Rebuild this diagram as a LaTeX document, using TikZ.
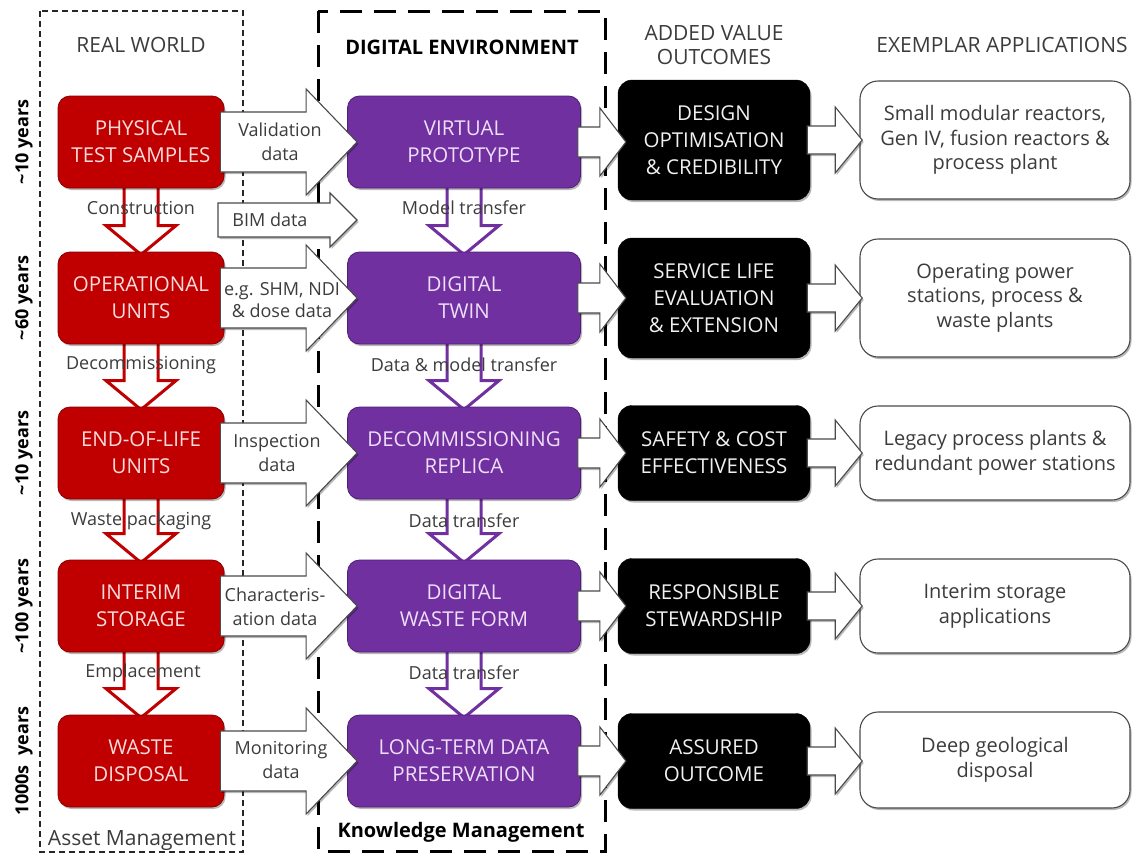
\documentclass[tikz,border=0pt]{standalone}
\usepackage{fontspec}
\setmainfont{Open Sans}
\usetikzlibrary{calc,shadows}
\definecolor{cRed}{HTML}{C00000}
\definecolor{cRedEdge}{HTML}{8A0000}
\definecolor{cPur}{HTML}{7030A0}
\definecolor{cPurEdge}{HTML}{4F1F75}
\definecolor{cRedTxt}{HTML}{F9DCDC}
\definecolor{cPurTxt}{HTML}{EEDFF9}
\definecolor{cGray}{HTML}{3C3C3C}
\definecolor{cLine}{HTML}{4A4A4A}
\newcommand\myfs[2]{\fontsize{#1}{#2}\selectfont}
\newcommand\fatarrow[5]{\draw[fatarr] ($(#1)+(0,-#3)$) -- ($(#2)+(-#5,-#3)$) -- ($(#2)+(-#5,-#4)$) -- (#2) -- ($(#2)+(-#5,#4)$) -- ($(#2)+(-#5,#3)$) -- ($(#1)+(0,#3)$) -- cycle;}
\newcommand\downarr[3]{\draw[downarr,draw=#3] ($(#1.south)+(-17,-6)$) -- ($(#2.north)+(-17,-26)$) -- ($(#2.north)+(-35,-26)$) -- ($(#2.north)+(0,3)$) -- ($(#2.north)+(35,-26)$) -- ($(#2.north)+(17,-26)$) -- ($(#1.south)+(17,-6)$) -- cycle;}
\pgfdeclarelayer{bg}
\pgfsetlayers{bg,main}
\begin{document}
\begin{tikzpicture}[x=1pt,y=-1pt,
 shad/.style={drop shadow={shadow xshift=1.5pt,shadow yshift=-2pt,opacity=0.28,fill=black}},
 rbox/.style={shad,rounded corners=12pt,fill=cRed,draw=cRedEdge,line width=0.8pt,text=cRedTxt,minimum width=166pt,minimum height=92pt,inner sep=0pt,align=center,font=\myfs{20.5}{27}},
 pbox/.style={rbox,fill=cPur,draw=cPurEdge,text=cPurTxt,minimum width=233pt},
 bbox/.style={shad,rounded corners=14pt,fill=black,draw=black,text=white!94!black,minimum width=192pt,inner sep=0pt,align=center,font=\myfs{20.5}{27}},
 wbox/.style={shad,rounded corners=18pt,fill=white,draw=cLine,line width=1.1pt,text=cGray,minimum width=270pt,inner sep=0pt,align=center,font=\myfs{20}{24.5}},
 fatarr/.style={shad,fill=white,draw=cLine,line width=1.1pt,line join=miter},
 downarr/.style={fill=white,line width=3pt,line join=miter},
 alab/.style={text=cGray,align=center,font=\myfs{18}{24},inner sep=0pt},
 hdr/.style={text=cGray,align=center,font=\myfs{21}{24},inner sep=0pt},
 boldlbl/.style={text=black,font=\bfseries\myfs{20}{24},inner sep=0pt},
 yrs/.style={text=black,font=\bfseries\myfs{18}{20},rotate=90,inner sep=0pt}
]
\useasboundingbox (0,0) rectangle (1134,854);

% background and frames
\begin{pgfonlayer}{bg}
\fill[white] (0,0) rectangle (1134,854);
\draw[line width=1.2pt,dash pattern=on 6pt off 4pt,draw=black!85] (40,11) rectangle (243,852);
\draw[line width=3pt,dash pattern=on 22pt off 12pt] (318,11) rectangle (605,851);
\end{pgfonlayer}

% titles
\node[hdr] (tRW) at (141,45) {REAL WORLD};
\node[boldlbl] (tDE) at (462,47) {DIGITAL ENVIRONMENT};
\node[hdr] (tAV) at (714,45) {ADDED VALUE\\OUTCOMES};
\node[hdr] (tEA) at (1002,45) {EXEMPLAR APPLICATIONS};
\node[hdr] (tAM) at (142,840) {Asset Management};
\node[boldlbl] (tKM) at (461,832) {Knowledge Management};

% year labels
\node[yrs] (y1) at (24,142) {\textasciitilde10 years};
\node[yrs] (y2) at (24,298) {\textasciitilde60 years};
\node[yrs] (y3) at (24,453) {\textasciitilde10 years};
\node[yrs] (y4) at (24,606) {\textasciitilde100 years};
\node[yrs] (y5) at (24,761) {1000s\ \ years};

% real world
\node[rbox] (r1) at (141,142) {PHYSICAL\\TEST SAMPLES};
\node[rbox] (r2) at (141,298) {OPERATIONAL\\UNITS};
\node[rbox] (r3) at (141,453) {END-OF-LIFE\\UNITS};
\node[rbox] (r4) at (141,606) {INTERIM\\STORAGE};
\node[rbox] (r5) at (141,761) {WASTE\\DISPOSAL};

% digital environment
\node[pbox] (p1) at (464,142) {VIRTUAL\\PROTOTYPE};
\node[pbox] (p2) at (464,298) {DIGITAL\\TWIN};
\node[pbox] (p3) at (464,453) {DECOMMISSIONING\\REPLICA};
\node[pbox] (p4) at (464,606) {DIGITAL\\WASTE FORM};
\node[pbox] (p5) at (464,761) {LONG-TERM DATA\\PRESERVATION};

% outcomes
\node[bbox,minimum height=120pt] (b1) at (714,140) {DESIGN\\OPTIMISATION\\\& CREDIBILITY};
\node[bbox,minimum height=120pt] (b2) at (714,298) {SERVICE LIFE\\EVALUATION\\\& EXTENSION};
\node[bbox,minimum height=95pt] (b3) at (714,453) {SAFETY \& COST\\EFFECTIVENESS};
\node[bbox,minimum height=95pt] (b4) at (714,606) {RESPONSIBLE\\STEWARDSHIP};
\node[bbox,minimum height=95pt] (b5) at (714,761) {ASSURED\\OUTCOME};

% applications
\node[wbox,minimum height=118pt] (w1) at (995,140) {Small modular reactors,\\Gen IV, fusion reactors \&\\process plant};
\node[wbox,minimum height=118pt] (w2) at (995,298) {Operating power\\stations, process \&\\waste plants};
\node[wbox,minimum height=94pt] (w3) at (995,453) {Legacy process plants \&\\redundant power stations};
\node[wbox,minimum height=94pt] (w4) at (995,606) {Interim storage\\applications};
\node[wbox,minimum height=96pt] (w5) at (995,760) {Deep geological\\disposal};

% vertical transfer arrows (behind boxes)
\begin{pgfonlayer}{bg}
\foreach \i/\j in {1/2,2/3,3/4,4/5}{
  \downarr{r\i}{r\j}{cRed}
  \downarr{p\i}{p\j}{cPur}
}
\end{pgfonlayer}

% horizontal arrows
\foreach \i in {1,...,5}{
  \coordinate (s\i) at ($(r\i.east)+(-4,0)$);
  \coordinate (t\i) at ($(p\i.west)+(10,0)$);
  \coordinate (m\i) at ($(p\i.east)+(-3,0)$);
  \coordinate (n\i) at ($(p\i.east)+(45,0)$);
  \coordinate (u\i) at ($(b\i.east)+(-3,0)$);
  \coordinate (v\i) at ($(b\i.east)+(52,0)$);
  \fatarrow{s\i}{t\i}{30}{53}{51}
  \fatarrow{m\i}{n\i}{15}{34}{26}
  \fatarrow{u\i}{v\i}{14}{33}{27}
}
\coordinate (sB) at (218,220);
\coordinate (tB) at (357,220);
\fatarrow{sB}{tB}{17}{27}{27}

% arrow labels
\node[alab] (a1) at (280,142) {Validation\\data};
\node[alab] (aB) at (270,220) {BIM data};
\node[alab,font=\myfs{18}{22}] (a2) at (282,300) {e.g. SHM, NDI\\\& dose data};
\node[alab] (a3) at (277,453) {Inspection\\data};
\node[alab] (a4) at (275,607) {Characteris-\\ation data};
\node[alab] (a5) at (281,760) {Monitoring\\data};

% transfer labels
\node[alab] (c1) at (141,208) {Construction};
\node[alab] (c2) at (141,365) {Decommissioning};
\node[alab] (c3) at (141,521) {Waste packaging};
\node[alab] (c4) at (143,673) {Emplacement};
\node[alab] (d1) at (464,208) {Model transfer};
\node[alab] (d2) at (464,365) {Data \& model transfer};
\node[alab] (d3) at (464,521) {Data transfer};
\node[alab] (d4) at (464,673) {Data transfer};
\end{tikzpicture}
\end{document}
